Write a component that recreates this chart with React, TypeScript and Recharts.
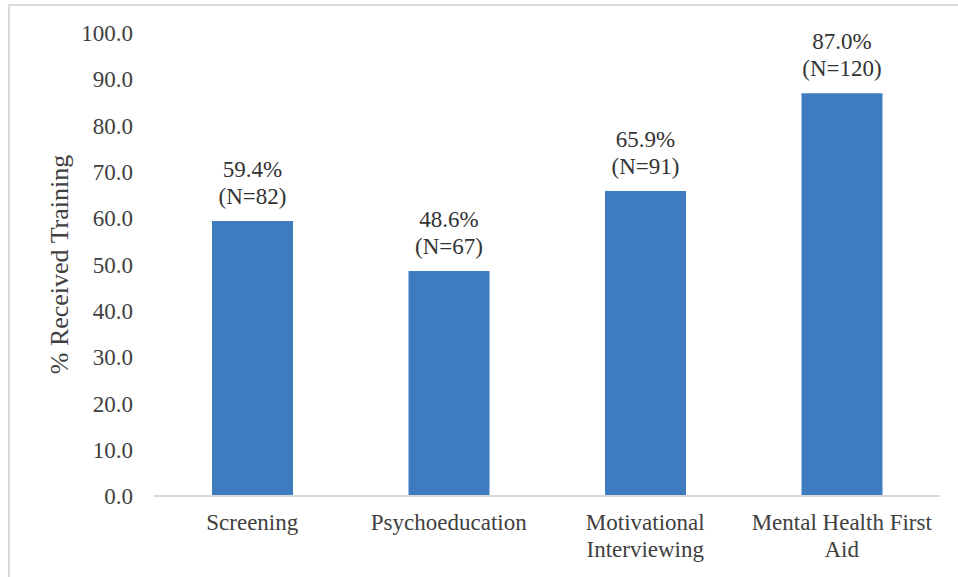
import { Bar, BarChart, LabelList, XAxis, YAxis } from "recharts";

// Share of staff who received each type of training
const categories = ["Screening", "Psychoeducation", "Motivational Interviewing", "Mental Health First Aid"];
const percentReceived = [59.4, 48.6, 65.9, 87.0];
const respondentCounts = [82, 67, 91, 120];
const yTicks = [0, 10, 20, 30, 40, 50, 60, 70, 80, 90, 100];
// how each category label breaks onto lines under the axis
const categoryLines = [
  ["Screening"],
  ["Psychoeducation"],
  ["Motivational", "Interviewing"],
  ["Mental Health First", "Aid"],
];

const data = categories.map((name, i) => ({
  name,
  pct: percentReceived[i],
  n: respondentCounts[i],
}));

const FONT = '"Liberation Serif", "Times New Roman", serif';
const TEXT = "#404040";
const GRID = "#d9d9d9";
const BAR = "#3f7cbf";

function CategoryTick(props: any) {
  const { x, y, payload } = props;
  const idx = categories.indexOf(payload.value);
  const lines = idx >= 0 ? categoryLines[idx] : [String(payload.value)];
  return (
    <text x={x} y={y} textAnchor="middle" fontFamily={FONT} fontSize={23} fill={TEXT}>
      {lines.map((line, i) => (
        <tspan key={i} x={x} y={y + 34 + i * 27}>
          {line}
        </tspan>
      ))}
    </text>
  );
}

function ValueLabel(props: any) {
  const { x, y, width, index } = props;
  const cx = x + width / 2;
  const row = data[index];
  return (
    <text textAnchor="middle" fontFamily={FONT} fontSize={23} fill="#333333">
      <tspan x={cx} y={y - 44}>{`${row.pct.toFixed(1)}%`}</tspan>
      <tspan x={cx} y={y - 17}>{`(N=${row.n})`}</tspan>
    </text>
  );
}

function AxisTitle(props: any) {
  const { viewBox } = props;
  const cy = viewBox.y + viewBox.height / 2;
  return (
    <text
      x={68}
      y={cy}
      transform={`rotate(-90, 68, ${cy})`}
      textAnchor="middle"
      fontFamily={FONT}
      fontSize={26}
      fill={TEXT}
    >
      % Received Training
    </text>
  );
}

export default function App() {
  return (
    <div
      style={{
        position: "absolute",
        left: 0,
        top: 0,
        width: 958,
        height: 577,
        background: "#ffffff",
        overflow: "hidden",
      }}
    >
      <div
        style={{
          position: "absolute",
          left: 8,
          top: 4,
          width: 1000,
          height: 1000,
          border: `2px solid ${GRID}`,
        }}
      />
      <div style={{ position: "absolute", left: 0, top: 0 }}>
        <BarChart
          width={958}
          height={577}
          data={data}
          margin={{ top: 33, right: 18, bottom: 0, left: 94 }}
          barSize={81}
        >
          <XAxis
            dataKey="name"
            height={81}
            axisLine={{ stroke: GRID, strokeWidth: 2 }}
            tickLine={false}
            tickSize={0}
            tickMargin={0}
            interval={0}
            tick={<CategoryTick />}
          />
          <YAxis
            width={60}
            domain={[0, 100]}
            ticks={yTicks}
            axisLine={false}
            tickLine={false}
            tickSize={0}
            tickMargin={21}
            tickFormatter={(v: number) => v.toFixed(1)}
            tick={{ fontFamily: FONT, fontSize: 23, fill: TEXT }}
            label={<AxisTitle />}
          />
          <Bar dataKey="pct" fill={BAR} isAnimationActive={false}>
            <LabelList dataKey="pct" content={<ValueLabel />} />
          </Bar>
        </BarChart>
      </div>
    </div>
  );
}
